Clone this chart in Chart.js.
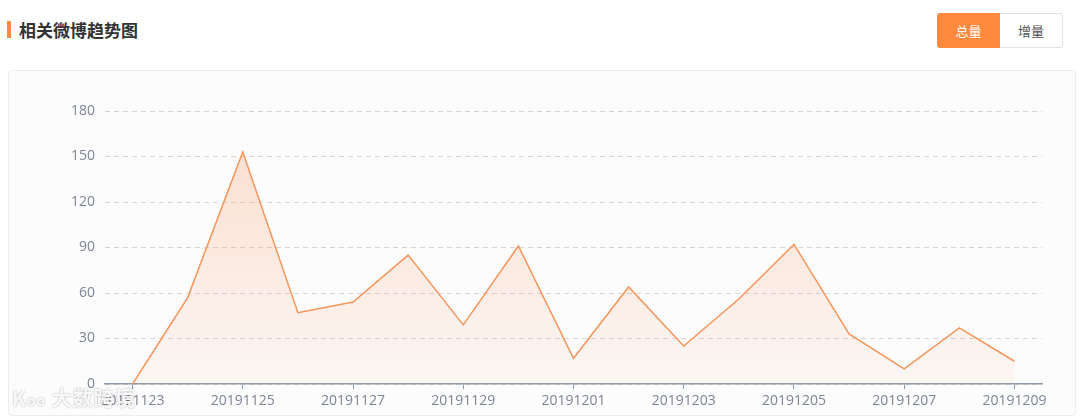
<!DOCTYPE html>
<html lang="zh">
<head>
<meta charset="UTF-8">
<title>相关微博趋势图</title>
<script src="https://cdn.jsdelivr.net/npm/chart.js"></script>
<style>
  body{margin:0; width:1080px; height:419px; background:#fff; font-family:"Noto Sans CJK SC","Noto Sans",sans-serif; position:relative; overflow:hidden;}
  #bar{position:absolute; left:7px; top:21px; width:4px; height:17px; background:#ff8a3d;}
  #title{position:absolute; left:19px; top:18px; font-size:17px; font-weight:bold; color:#333; line-height:24px;}
  .btn{position:absolute; top:13px; width:63px; height:35px; box-sizing:border-box; font-size:13px; line-height:33px; text-align:center;}
  #b1{left:937px; background:#ff8a3d; color:#fff; border:1px solid #ff8a3d; border-radius:3px 0 0 3px;}
  #b2{left:1000px; background:#fff; color:#555; border:1px solid #e2e2e2; border-left:none; border-radius:0 3px 3px 0;}
  #card{position:absolute; left:8px; top:70px; width:1068px; height:346px; box-sizing:border-box; border:1px solid #ececec; border-radius:4px; background:#fcfcfc;}
  #wrap{position:absolute; left:0; top:0; width:1066px; height:344px;}
  #mark{position:absolute; left:12px; top:383px; font-size:20px; font-weight:bold; color:rgba(255,255,255,0.9); text-shadow:0 0 2px rgba(0,0,0,0.35); letter-spacing:1px;}
</style>
</head>
<body>
<div id="bar"></div>
<div id="title">相关微博趋势图</div>
<div class="btn" id="b1">总量</div>
<div class="btn" id="b2">增量</div>
<div id="card"><div id="wrap"><canvas id="myChart"></canvas></div></div>
<div id="mark">K<span style="font-size:14px">oo</span> 大数跨境</div>
<script>
// 日期
const labels = ['20191123','20191124','20191125','20191126','20191127','20191128','20191129','20191130',
  '20191201','20191202','20191203','20191204','20191205','20191206','20191207','20191208','20191209'];
// 总量
const totals = [0, 57, 153, 47, 54, 85, 39, 91, 17, 64, 25, 56, 92, 33, 10, 37, 15];
// y轴刻度
const yTicks = [0, 30, 60, 90, 120, 150, 180];

const ctx = document.getElementById('myChart');
new Chart(ctx, {
  type: 'line',
  data: {
    labels: labels,
    datasets: [{
      label: '总量',
      data: totals,
      borderColor: '#f7945a',
      borderWidth: 1.5,
      pointRadius: 0,
      tension: 0,
      fill: true,
      backgroundColor: function(c){
        const area = c.chart.chartArea;
        if(!area) return 'rgba(250,140,80,0.15)';
        const g = c.chart.ctx.createLinearGradient(0, area.top, 0, area.bottom);
        g.addColorStop(0, 'rgba(250,140,80,0.28)');
        g.addColorStop(1, 'rgba(250,140,80,0.05)');
        return g;
      }
    }]
  },
  options: {
    responsive: true,
    maintainAspectRatio: false,
    animation: false,
    layout: {padding: {top: 40, right: 33, bottom: 0, left: 0}},
    plugins: {legend: {display: false}, tooltip: {enabled: false}},
    scales: {
      x: {
        offset: true,
        grid: {
          offset: false,
          drawOnChartArea: false,
          drawTicks: true,
          tickLength: 5,
          color: c => (c.index % 2 === 0 ? '#8e99aa' : 'transparent')
        },
        border: {color: '#8e99aa', width: 1.5},
        ticks: {
          autoSkip: false,
          maxRotation: 0,
          padding: 4,
          color: '#7d8594',
          font: {size: 14, family: '"Open Sans", "Noto Sans", sans-serif'},
          callback: function(v, i){ return i % 2 === 0 ? labels[i] : ''; }
        },
        afterFit: s => { s.height = 31; }
      },
      y: {
        min: 0,
        max: 180,
        afterBuildTicks: s => { s.ticks = yTicks.map(v => ({value: v})); },
        grid: {color: '#d6d6d6', drawTicks: false, lineWidth: 1},
        border: {display: false, dash: [5, 4]},
        ticks: {
          padding: 10,
          color: '#7d8594',
          font: {size: 14, family: '"Open Sans", "Noto Sans", sans-serif'}
        },
        afterFit: s => { s.width = 96; }
      }
    }
  }
});
</script>
</body>
</html>
